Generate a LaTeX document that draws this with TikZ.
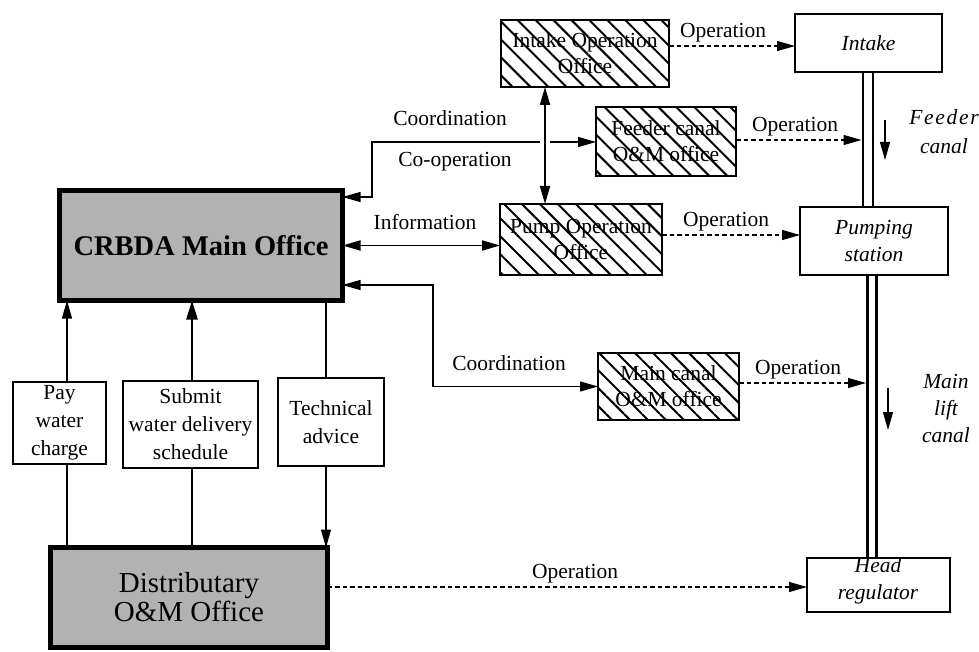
\documentclass[tikz,border=0pt]{standalone}
\usepackage{fontspec}
\setmainfont{Liberation Serif}
\usetikzlibrary{arrows.meta,patterns.meta}
\begin{document}
\begin{tikzpicture}[x=1pt,y=-1pt,
  every node/.style={inner sep=0pt, outer sep=0pt, font=\fontsize{21.5}{26}\selectfont},
  gbox/.style={draw, line width=5pt, fill=black!30, align=center},
  hbox/.style={draw, line width=2pt, align=center,
    pattern={Lines[angle=-45,distance=12.7pt,line width=2pt]}},
  wbox/.style={draw, line width=1.6pt, fill=white, align=center, font=\fontsize{21.5}{28}\selectfont},
  ln/.style={line width=1.2pt},
  thk/.style={line width=2.6pt},
  tip/.style={-{Triangle[length=18pt,width=10pt]}},
  tips/.style={{Triangle[length=18pt,width=10pt]}-{Triangle[length=18pt,width=10pt]}},
  dsh/.style={line width=1.2pt, dash pattern=on 4.5pt off 3pt},
  canal/.style={line width=2.6pt},
  it/.style={font=\fontsize{21.5}{27}\selectfont\itshape, align=center}
]
\useasboundingbox (0,0) rectangle (979,652);

% main offices
\node[gbox, minimum width=283pt, minimum height=110pt, font=\fontsize{28.5}{30}\selectfont\bfseries] (main) at (201,245.5) {CRBDA Main Office};
\node[gbox, minimum width=277pt, minimum height=100pt, font=\fontsize{29}{29}\selectfont] (dist) at (189,597.5) {Distributary\\O\&M Office};

% hatched offices
\node[hbox, minimum width=168pt, minimum height=67pt] (intakeoff) at (585,53.5) {Intake Operation\\Office};
\node[hbox, minimum width=140pt, minimum height=69pt] (feederoff) at (666,141.5) {Feeder canal\\O\&M office};
\node[hbox, minimum width=162pt, minimum height=71pt] (pumpoff) at (581,239.5) {Pump Operation\\Office};
\node[hbox, minimum width=141pt, minimum height=67pt] (mainoff) at (668.5,386.5) {Main canal\\O\&M office};

% structures
\node[wbox, minimum width=147pt, minimum height=58pt, it] (intake) at (868.5,43) {Intake};
\node[wbox, minimum width=148pt, minimum height=68pt, it] (pumping) at (874,241) {Pumping\\station};
\node[wbox, minimum width=143pt, minimum height=54pt] (head) at (878.5,585) {};
\node[it] (headtxt) at (878,581) {Head\\regulator};

% small boxes
\node[wbox, minimum width=93pt, minimum height=82pt] (pay) at (59.5,423) {Pay\\water\\charge};
\node[wbox, minimum width=135pt, minimum height=87pt] (submit) at (190.5,424.5) {Submit\\water delivery\\schedule};
\node[wbox, minimum width=106pt, minimum height=88pt] (tech) at (331,422) {Technical\\advice};

% coordinates
\coordinate (cc1) at (372,142);
\coordinate (cc2) at (433,386.5);
\coordinate (xp) at (67,0);
\coordinate (xs) at (192,0);
\coordinate (xt) at (326,0);
\coordinate (vx) at (545,0);
\coordinate (k1) at (863,0);
\coordinate (k2) at (873,0);
\coordinate (k3) at (867.5,0);
\coordinate (k4) at (876.5,0);
\coordinate (fo) at (861.5,140);
\coordinate (mo) at (866,383);
\coordinate (f1) at (885,120);
\coordinate (f2) at (885,160);
\coordinate (m1) at (888,388);
\coordinate (m2) at (888,430);

% canal
\draw[canal] (intake.south -| k1) -- (pumping.north -| k1);
\draw[canal] (intake.south -| k2) -- (pumping.north -| k2);
\draw[canal] (pumping.south -| k3) -- (head.north -| k3);
\draw[canal] (pumping.south -| k4) -- (head.north -| k4);
\draw[ln, tip] (f1) -- (f2);
\draw[ln, tip] (m1) -- (m2);

% connectors from main office
\draw[ln, tips] ([yshift=48.5pt]main.east) -| (cc1) -- (cc1 -| feederoff.west);
\draw[white, line width=10pt] ([yshift=-14pt]intakeoff.south -| vx) -- ([yshift=14pt]pumpoff.north -| vx);
\draw[line width=1.8pt, tips] (intakeoff.south -| vx) -- (pumpoff.north -| vx);
\draw[line width=1.8pt, tips] (main.east) -- (main.east -| pumpoff.west);
\draw[ln, tips] ([yshift=-39.5pt]main.east) -| (cc2) -- (mainoff.west);

% operation arrows
\draw[dsh, tip] ([yshift=7.5pt]intakeoff.east) -- ([yshift=7.5pt]intakeoff.east -| intake.west);
\draw[dsh, tip] (fo -| feederoff.east) -- (fo);
\draw[dsh, tip] ([yshift=4.5pt]pumpoff.east) -- ([yshift=4.5pt]pumpoff.east -| pumping.west);
\draw[dsh, tip] (mo -| mainoff.east) -- (mo);
\draw[dsh, tip] ([yshift=10.5pt]dist.east) -- ([yshift=10.5pt]dist.east -| head.west);

% vertical links
\draw[ln] (dist.north -| xp) -- (pay.south -| xp);
\draw[ln, tip] (pay.north -| xp) -- (main.south -| xp);
\draw[thk] (dist.north -| xs) -- (submit.south -| xs);
\draw[thk, -{Triangle[length=19pt,width=11pt]}] (submit.north -| xs) -- (main.south -| xs);
\draw[ln] (main.south -| xt) -- (tech.north -| xt);
\draw[ln, tip] (tech.south -| xt) -- (dist.north -| xt);

% labels
\node (lcoord1) at (450,118) {Coordination};
\node (lcoop) at (455,162) {Co-operation};
\node (linfo) at (425,222) {Information};
\node (lcoord2) at (509,363) {Coordination};
\node (lop1) at (723,33) {Operation};
\node (lop2) at (795,127) {Operation};
\node (lop3) at (726,222) {Operation};
\node (lop4) at (798,370) {Operation};
\node (lop5) at (575,574) {Operation};
\node[it, font=\fontsize{21.5}{29}\selectfont\itshape] (lfeeder) at (944,132) {\addfontfeature{LetterSpace=8}Feeder\\canal};
\node[it] (lmain) at (946,408) {Main\\lift\\canal};
\end{tikzpicture}
\end{document}
